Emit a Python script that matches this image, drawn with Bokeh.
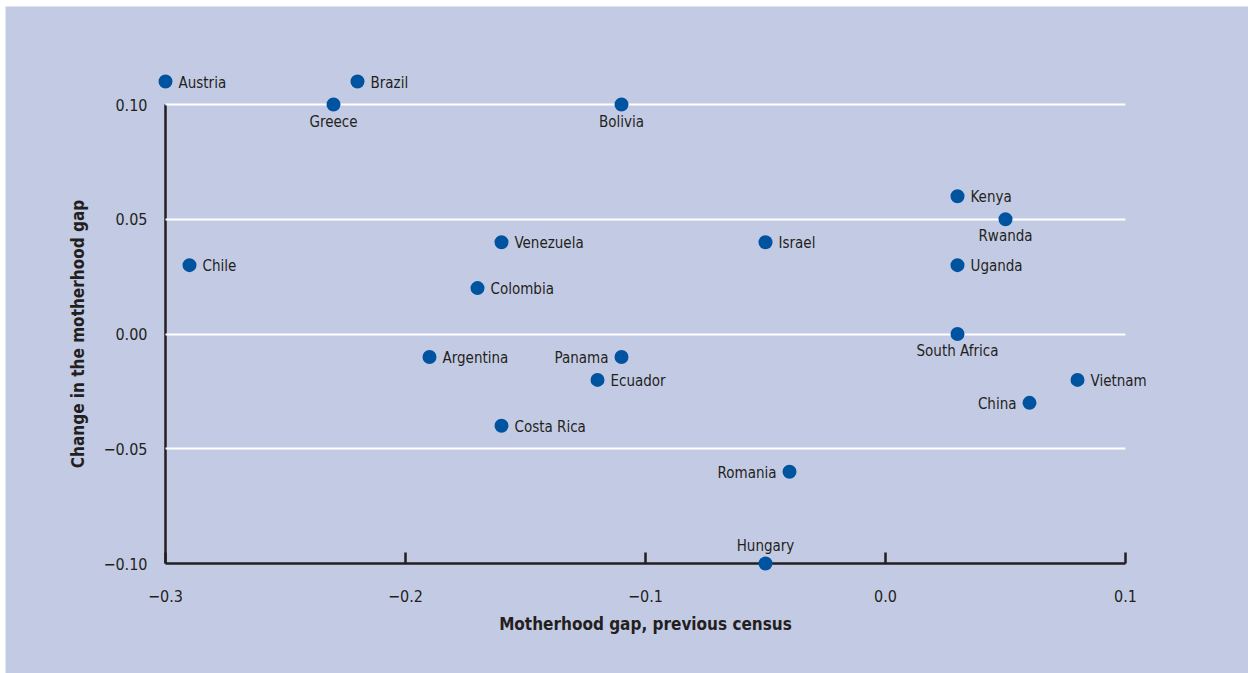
from bokeh.plotting import figure
from bokeh.models import Range1d, FixedTicker, CustomJSTickFormatter, ColumnDataSource
from bokeh.core.properties import value
from bokeh.embed import file_html
from bokeh.resources import INLINE

# ---- data ----
countries = ["Austria", "Brazil", "Greece", "Bolivia", "Kenya", "Rwanda", "Israel",
             "Venezuela", "Chile", "Uganda", "Colombia", "South Africa", "Argentina",
             "Panama", "Ecuador", "Vietnam", "China", "Costa Rica", "Romania", "Hungary"]
gap_previous = [-0.30, -0.22, -0.23, -0.11, 0.03, 0.05, -0.05,
                -0.16, -0.29, 0.03, -0.17, 0.03, -0.19,
                -0.11, -0.12, 0.08, 0.06, -0.16, -0.04, -0.05]
gap_change = [0.11, 0.11, 0.10, 0.10, 0.06, 0.05, 0.04,
              0.04, 0.03, 0.03, 0.02, 0.00, -0.01,
              -0.01, -0.02, -0.02, -0.03, -0.04, -0.06, -0.10]
label_side = ["right", "right", "below", "below", "right", "below", "right",
              "right", "right", "right", "right", "below", "right",
              "left", "right", "right", "left", "right", "left", "above"]

x_ticks = [-0.3, -0.2, -0.1, 0.0, 0.1]
y_ticks = [-0.10, -0.05, 0.00, 0.05, 0.10]
grid_ticks = [-0.05, 0.00, 0.05, 0.10]

x_title = "Motherhood gap, previous census"
y_title = "Change in the motherhood gap"

# ---- styling ----
BG = "#C3CBE4"
DOT = "#00539F"
INK = "#231F20"
FONT = "'DejaVu Sans Condensed', 'Roboto Condensed', 'Arial Narrow', Roboto, sans-serif"

W, H = 1248, 673
ML, MT = 5, 6
FW, FH = W - ML, H - MT
PX_X, PX_Y = 2400.0, 2295.0
AX_X, AX_Y = 165, 104  # page-pixel position of x=-0.3 and y=0.10
x_start = -0.3 - (AX_X - ML) / PX_X
x_end = x_start + FW / PX_X
y_end = 0.10 + (AX_Y - MT) / PX_Y
y_start = y_end - FH / PX_Y

side_style = {
    "right": ("left", "middle", 13, 1),
    "left": ("right", "middle", -13, 1),
    "below": ("center", "middle", 0, 17),
    "above": ("center", "middle", 0, -18),
}

src = ColumnDataSource(dict(
    x=gap_previous, y=gap_change, name=countries,
    align=[side_style[s][0] for s in label_side],
    base=[side_style[s][1] for s in label_side],
    xo=[side_style[s][2] for s in label_side],
    yo=[side_style[s][3] for s in label_side],
))

p = figure(width=W, height=H, output_backend="svg", toolbar_location=None,
           x_range=Range1d(x_start, x_end), y_range=Range1d(y_start, y_end),
           min_border=0, min_border_left=ML, min_border_top=MT)
p.background_fill_color = BG
p.border_fill_color = "white"
p.outline_line_color = None

# axes
xa = p.xaxis[0]
ya = p.yaxis[0]
xa.fixed_location = -0.10
ya.fixed_location = -0.30
xa.bounds = (-0.3, 0.1)
ya.bounds = (-0.1, 0.1)
xa.ticker = FixedTicker(ticks=x_ticks)
ya.ticker = FixedTicker(ticks=y_ticks)
xa.formatter = CustomJSTickFormatter(code="""
    const t = Math.abs(tick) < 1e-9 ? 0 : tick;
    return t.toFixed(1).replace('-', '\u2212');""")
ya.formatter = CustomJSTickFormatter(code="""
    const t = Math.abs(tick) < 1e-9 ? 0 : tick;
    return t.toFixed(2).replace('-', '\u2212');""")
for ax in (xa, ya):
    ax.axis_line_color = INK
    ax.axis_line_width = 2.5
    ax.major_tick_line_color = INK
    ax.major_tick_line_width = 2.5
    ax.minor_tick_line_color = None
    ax.major_label_text_font = FONT
    ax.major_label_text_font_size = "16px"
    ax.major_label_text_color = INK
    ax.axis_label_text_font = FONT
    ax.axis_label_text_font_size = "17px"
    ax.axis_label_text_font_style = "bold"
    ax.axis_label_text_color = INK
    ax.level = "underlay"
xa.major_tick_in = 11
xa.major_tick_out = 0
ya.major_tick_in = 0
ya.major_tick_out = 0
xa.major_label_standoff = 26
ya.major_label_standoff = 18
xa.axis_label = x_title
ya.axis_label = y_title
xa.axis_label_standoff = 9
ya.axis_label_standoff = 12

# grid
p.xgrid.visible = False
g = p.ygrid[0]
g.ticker = FixedTicker(ticks=grid_ticks)
g.grid_line_color = "white"
g.grid_line_width = 2
g.cross_bounds = (-0.3, 0.1)

p.scatter("x", "y", source=src, size=14, fill_color=DOT, line_color=None)
p.text("x", "y", text="name", source=src, text_align="align", text_baseline="base",
       x_offset="xo", y_offset="yo", text_font=value(FONT), text_font_size="15px",
       text_color=INK)

open("out.html", "w").write(file_html(p, INLINE))
